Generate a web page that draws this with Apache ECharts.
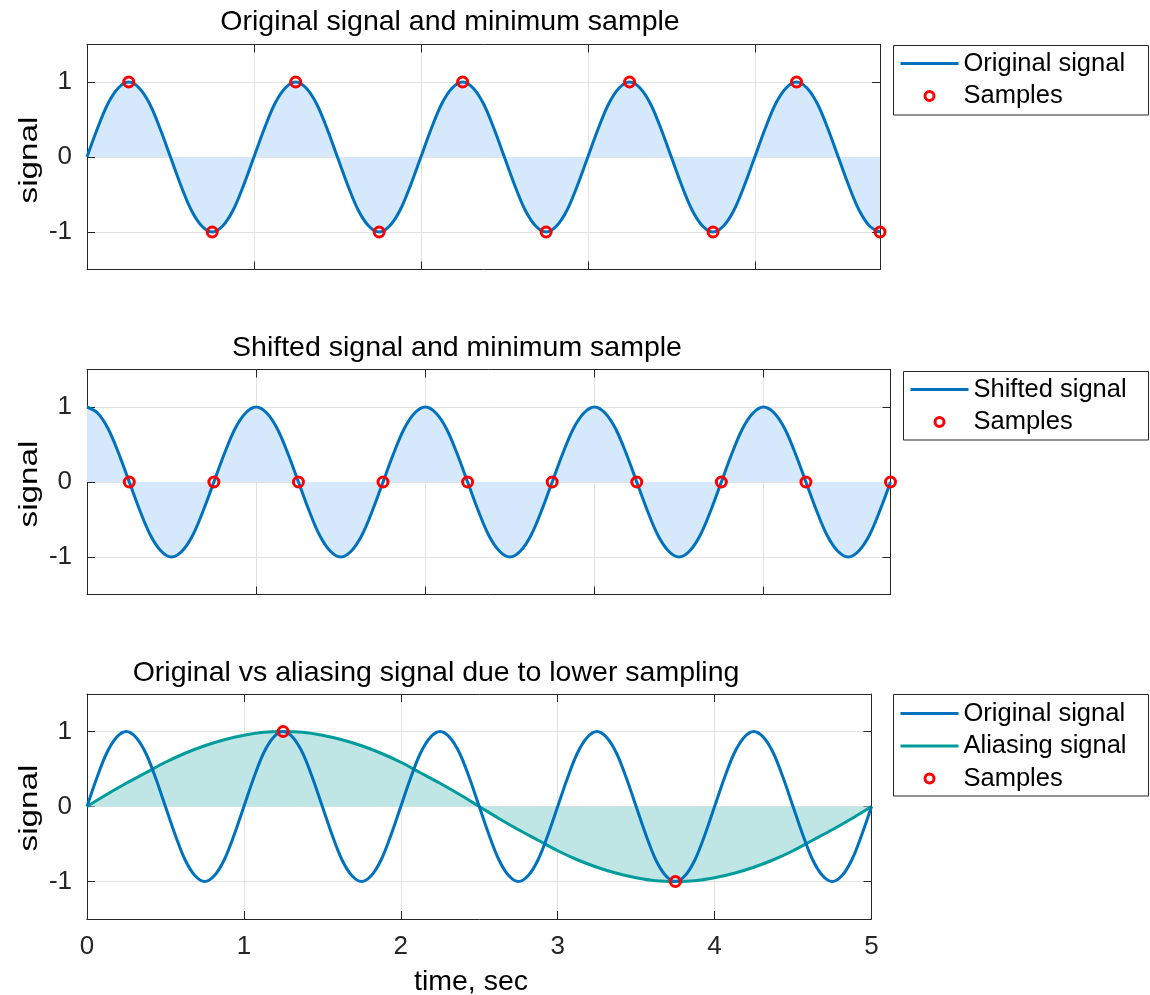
<!DOCTYPE html>
<html lang="en">
<head>
    <meta charset="UTF-8">
    <title>Original vs aliasing signal</title>
    <script src="https://cdn.jsdelivr.net/npm/echarts@6/dist/echarts.min.js"></script>
    <style>
        html, body { margin: 0; padding: 0; background: #fff; }
        #chart-container { width: 1150px; height: 995px; }
    </style>
</head>
<body>
    <div id="chart-container"></div>
    <script>
        // fast curves every 1/16 s, the slow one every 1/8 s
        var dtFast = 0.0625;
        var dtSlow = 0.125;
        var originalSignal = [
            0, 0.38, 0.71, 0.92, 1, 0.92, 0.71, 0.38, 0, -0.38, -0.71, -0.92, -1, -0.92, -0.71, -0.38,
            0, 0.38, 0.71, 0.92, 1, 0.92, 0.71, 0.38, 0, -0.38, -0.71, -0.92, -1, -0.92, -0.71, -0.38,
            0, 0.38, 0.71, 0.92, 1, 0.92, 0.71, 0.38, 0, -0.38, -0.71, -0.92, -1, -0.92, -0.71, -0.38,
            0, 0.38, 0.71, 0.92, 1, 0.92, 0.71, 0.38, 0, -0.38, -0.71, -0.92, -1, -0.92, -0.71, -0.38,
            0, 0.38, 0.71, 0.92, 1, 0.92, 0.71, 0.38, 0, -0.38, -0.71, -0.92, -1, -0.92, -0.71, -0.38,
            0
        ];
        var shiftedSignal = [
            1, 0.92, 0.71, 0.38, 0, -0.38, -0.71, -0.92, -1, -0.92, -0.71, -0.38, 0, 0.38, 0.71, 0.92,
            1, 0.92, 0.71, 0.38, 0, -0.38, -0.71, -0.92, -1, -0.92, -0.71, -0.38, 0, 0.38, 0.71, 0.92,
            1, 0.92, 0.71, 0.38, 0, -0.38, -0.71, -0.92, -1, -0.92, -0.71, -0.38, 0, 0.38, 0.71, 0.92,
            1, 0.92, 0.71, 0.38, 0, -0.38, -0.71, -0.92, -1, -0.92, -0.71, -0.38, 0, 0.38, 0.71, 0.92,
            1, 0.92, 0.71, 0.38, 0, -0.38, -0.71, -0.92, -1, -0.92, -0.71, -0.38, 0
        ];
        var aliasingSignal = [
            0, 0.16, 0.31, 0.45, 0.59, 0.71, 0.81, 0.89, 0.95, 0.99,
            1, 0.99, 0.95, 0.89, 0.81, 0.71, 0.59, 0.45, 0.31, 0.16,
            0, -0.16, -0.31, -0.45, -0.59, -0.71, -0.81, -0.89, -0.95, -0.99,
            -1, -0.99, -0.95, -0.89, -0.81, -0.71, -0.59, -0.45, -0.31, -0.16,
            0
        ];
        var sampleTimes = [0.25, 0.75, 1.25, 1.75, 2.25, 2.75, 3.25, 3.75, 4.25, 4.75];
        var originalSamples = [1, -1, 1, -1, 1, -1, 1, -1, 1, -1];
        var shiftedSamples = [0, 0, 0, 0, 0, 0, 0, 0, 0, 0];
        var aliasSampleTimes = [1.25, 3.75];
        var aliasSamples = [1, -1];
        var xTicks = [0, 1, 2, 3, 4, 5];
        var yTicks = [-1, 0, 1];

        function curve(values, dt) {
            return values.map(function (v, i) { return [i * dt, v]; });
        }
        function pairs(ts, vs) {
            return ts.map(function (t, i) { return [t, vs[i]]; });
        }

        var font = '"Liberation Sans", Arial, Helvetica, sans-serif';
        var axisColor = '#262626';
        var blue = '#0072BD';
        var teal = '#009B9B';

        var panels = [
            { left: 87, top: 44.5, width: 793, height: 225, xMax: 4.75 },
            { left: 87, top: 369.5, width: 803.5, height: 225, xMax: 4.75 },
            { left: 87, top: 694, width: 784.5, height: 225, xMax: 5 }
        ];

        var xAxes = [], yAxes = [];
        panels.forEach(function (p, i) {
            var tx = xTicks.filter(function (t) { return t <= p.xMax; });
            var tick = { show: true, inside: true, length: 8, lineStyle: { color: axisColor, width: 1 } };
            var line = { show: true, onZero: false, lineStyle: { color: axisColor, width: 1 } };
            xAxes.push({
                type: 'value', gridIndex: i, position: 'bottom', min: 0, max: p.xMax,
                axisLine: line,
                axisTick: Object.assign({ customValues: tx }, tick),
                axisLabel: { show: i === 2, customValues: tx, margin: 15, color: axisColor, fontSize: 26, fontFamily: font },
                splitLine: { show: true, lineStyle: { color: '#e2e2e2', width: 1 } }
            });
            xAxes.push({
                type: 'value', gridIndex: i, position: 'top', min: 0, max: p.xMax,
                axisLine: line,
                axisTick: Object.assign({ customValues: tx }, tick),
                axisLabel: { show: false },
                splitLine: { show: false }
            });
            yAxes.push({
                type: 'value', gridIndex: i, position: 'left', min: -1.5, max: 1.5,
                axisLine: line,
                axisTick: Object.assign({ customValues: yTicks }, tick),
                axisLabel: { customValues: yTicks, margin: 15, color: axisColor, fontSize: 26, fontFamily: font },
                splitLine: { show: true, lineStyle: { color: '#e2e2e2', width: 1 } }
            });
            yAxes.push({
                type: 'value', gridIndex: i, position: 'right', min: -1.5, max: 1.5,
                axisLine: line,
                axisTick: Object.assign({ customValues: yTicks }, tick),
                axisLabel: { show: false },
                splitLine: { show: false }
            });
        });

        function lineSeries(name, data, axis, color, fill, z) {
            var s = {
                name: name, type: 'line', xAxisIndex: axis, yAxisIndex: axis,
                data: data, smooth: 0.35, symbol: 'none', z: z,
                lineStyle: { color: color, width: 3 },
                itemStyle: { color: color },
                emphasis: { disabled: true }
            };
            if (fill) s.areaStyle = { color: fill, opacity: 1 };
            return s;
        }
        function sampleSeries(data, axis) {
            return {
                name: 'Samples', type: 'scatter', xAxisIndex: axis, yAxisIndex: axis,
                data: data, symbol: 'circle', symbolSize: 10, clip: false, z: 5,
                itemStyle: { color: 'rgba(0,0,0,0)', borderColor: '#ff0000', borderWidth: 3, opacity: 1 },
                emphasis: { disabled: true }
            };
        }

        var legendBase = {
            orient: 'vertical', padding: 0, itemGap: 6.5, itemWidth: 58, itemHeight: 9,
            selectedMode: false,
            lineStyle: { width: 3 },
            textStyle: { color: '#000', fontSize: 25.5, lineHeight: 26, fontFamily: font }
        };
        var samplesItem = {
            name: 'Samples', icon: 'circle',
            itemStyle: { color: 'rgba(0,0,0,0)', borderColor: '#ff0000', borderWidth: 3 }
        };
        function lineItem(name) {
            // plain line in the legend, no dot in the middle
            return { name: name, itemStyle: { color: 'rgba(0,0,0,0)', borderWidth: 0, opacity: 0 } };
        }

        function text(str, x, y, size, rot, stretch) {
            return {
                type: 'text', x: x, y: y, rotation: rot || 0, scaleX: stretch || 1,
                style: { text: str, font: size + 'px ' + font, fill: '#000', textAlign: 'center', textVerticalAlign: 'middle' }
            };
        }
        function box(x, y, w, h) {
            return {
                type: 'rect', shape: { x: x, y: y, width: w, height: h },
                style: { fill: 'none', stroke: axisColor, lineWidth: 1 }
            };
        }

        var option = {
            backgroundColor: '#fff',
            animation: false,
            grid: panels.map(function (p) {
                return { left: p.left, top: p.top, width: p.width, height: p.height, containLabel: false };
            }),
            xAxis: xAxes,
            yAxis: yAxes,
            legend: [
                Object.assign({ left: 899, top: 50.5, data: [lineItem('Original signal'), samplesItem] }, legendBase),
                Object.assign({ left: 909, top: 376.5, data: [lineItem('Shifted signal'), samplesItem] }, legendBase),
                Object.assign({ left: 899, top: 700.5, data: [lineItem('Original signal'), lineItem('Aliasing signal'), samplesItem] }, legendBase)
            ],
            graphic: [
                text('Original signal and minimum sample', 450, 22, 28.5),
                text('Shifted signal and minimum sample', 457, 348, 28.5),
                text('Original vs aliasing signal due to lower sampling', 436, 673, 28.5),
                text('time, sec', 471, 982, 28.5),
                text('signal', 30, 160, 26, Math.PI / 2, 1.28),
                text('signal', 30, 484, 26, Math.PI / 2, 1.28),
                text('signal', 30, 808, 26, Math.PI / 2, 1.28),
                box(893.5, 45.5, 255, 69.5),
                box(903.5, 371.5, 245, 68.5),
                box(893.5, 694.5, 255, 101.5)
            ],
            series: [
                lineSeries('Original signal', curve(originalSignal.slice(0, 77), dtFast), 0, blue, '#D6E9FC', 2),
                sampleSeries(pairs(sampleTimes, originalSamples), 0),
                lineSeries('Shifted signal', curve(shiftedSignal, dtFast), 2, blue, '#D6E9FC', 2),
                sampleSeries(pairs(sampleTimes, shiftedSamples), 2),
                lineSeries('Aliasing signal', curve(aliasingSignal, dtSlow), 4, teal, '#BFE5E5', 2),
                lineSeries('Original signal', curve(originalSignal, dtFast), 4, blue, null, 3),
                sampleSeries(pairs(aliasSampleTimes, aliasSamples), 4)
            ]
        };

        var myChart = echarts.init(document.getElementById('chart-container'));
        myChart.setOption(option);
    </script>
</body>
</html>
